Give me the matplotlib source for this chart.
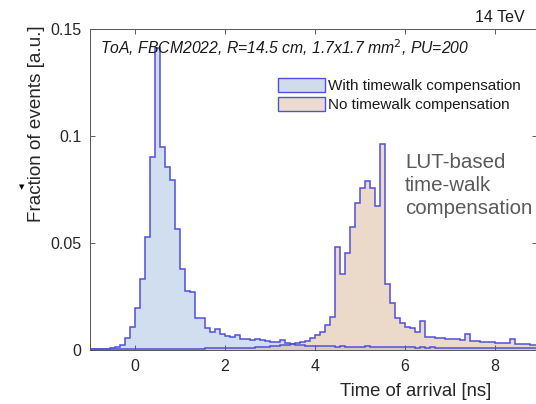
import numpy as np
import matplotlib
matplotlib.use("Agg")
import matplotlib.pyplot as plt
from matplotlib.patches import Patch

plt.rcParams['font.family'] = ['Liberation Sans', 'DejaVu Sans']

# ---- data -------------------------------------------------------------
bin_width = 1.0 / 9.0           # ns
first_edge = -1.0               # ns
n_bins = 90

with_comp = [
    0.0002, 0.0003, 0.0004, 0.0005, 0.0008,
    0.0012, 0.0022, 0.0053, 0.0105,
    0.0197, 0.0330, 0.0525, 0.0902, 0.1410, 0.0946, 0.0855, 0.0793, 0.0563,
    0.0378, 0.0272, 0.0268, 0.0148, 0.0146, 0.0100, 0.0085, 0.0095, 0.0073,
    0.0062, 0.0060, 0.0069, 0.0050, 0.0049, 0.0047, 0.0050, 0.0043, 0.0040,
    0.0037, 0.0037, 0.0045, 0.0033, 0.0027,
    0.0022, 0.0020, 0.0018, 0.0017, 0.0016, 0.0017, 0.0015, 0.0015, 0.0014, 0.0016,
    0.0014, 0.0013, 0.0014, 0.0013, 0.0015, 0.0013, 0.0012, 0.0013, 0.0012, 0.0011,
    0.0012, 0.0011, 0.0012, 0.0011, 0.0010, 0.0011, 0.0010, 0.0011, 0.0010, 0.0010,
    0.0009, 0.0010, 0.0009, 0.0010, 0.0009, 0.0009, 0.0008, 0.0009, 0.0008, 0.0009,
    0.0008, 0.0008, 0.0008, 0.0007, 0.0008, 0.0007, 0.0008, 0.0007, 0.0007,
]

no_comp = [
    0.0001, 0.0001, 0.0001, 0.0001, 0.0001, 0.0002, 0.0002, 0.0002, 0.0002, 0.0002,
    0.0002, 0.0003, 0.0003, 0.0003, 0.0003, 0.0003, 0.0004, 0.0004, 0.0004, 0.0004,
    0.0005, 0.0005, 0.0005, 0.0006, 0.0006, 0.0006, 0.0007, 0.0007, 0.0008, 0.0008,
    0.0009, 0.0009, 0.0010, 0.0011,
    0.0012, 0.0014, 0.0016, 0.0018, 0.0020, 0.0023, 0.0027,
    0.0030, 0.0035, 0.0042, 0.0053, 0.0069, 0.0084, 0.0115, 0.0151,
    0.0480, 0.0352, 0.0450, 0.0572, 0.0687, 0.0757, 0.0788, 0.0757, 0.0671, 0.0961,
    0.0307, 0.0220, 0.0150, 0.0126, 0.0107, 0.0100, 0.0084, 0.0136, 0.0061,
    0.0059, 0.0056, 0.0053, 0.0052, 0.0050, 0.0049, 0.0047, 0.0073,
    0.0040, 0.0039, 0.0038, 0.0036, 0.0035, 0.0033, 0.0032, 0.0031,
    0.0049, 0.0027, 0.0026, 0.0025, 0.0024, 0.0023,
]

series_labels = ["With timewalk compensation", "No timewalk compensation"]
x_ticks = [0, 2, 4, 6, 8]
x_tick_labels = ["0", "2", "4", "6", "8"]
y_ticks = [0, 0.05, 0.1, 0.15]
y_tick_labels = ["0", "0.05", "0.1", "0.15"]

assert len(with_comp) == n_bins and len(no_comp) == n_bins
edges = first_edge + bin_width * np.arange(n_bins + 1)

# ---- figure -----------------------------------------------------------
W, H = 536, 404
ax_l, ax_r, ax_t, ax_b = 90, 536.5, 28.7, 349.7
fig = plt.figure(figsize=(W / 100, H / 100), dpi=100)
ax = fig.add_axes([ax_l / W, (H - ax_b) / H, (ax_r - ax_l) / W, (ax_b - ax_t) / H])

edge_col = '#5050dc'
blue_face = '#a3bfe0'
orange_face = '#dcbca0'

ax.stairs(with_comp, edges, fill=True, facecolor=blue_face, alpha=0.5,
          edgecolor='none', zorder=1)
ax.stairs(no_comp, edges, fill=True, facecolor=orange_face, alpha=0.55,
          edgecolor='none', zorder=1)
ax.stairs(with_comp, edges, color=edge_col, linewidth=1.1, zorder=2)
ax.stairs(no_comp, edges, color=edge_col, linewidth=1.1, zorder=2)

ax.set_xlim(-1, (ax_r - 135) / 45.0)
ax.set_ylim(0, 0.15)
ax.set_xticks(x_ticks)
ax.set_xticklabels(x_tick_labels)
ax.set_yticks(y_ticks)
ax.set_yticklabels(y_tick_labels)
ax.tick_params(direction='in', length=3.5, width=0.6, color='#444444',
               labelsize=11.5, labelcolor='#262626', top=True, right=True)
ax.tick_params(axis='y', pad=6)
ax.tick_params(axis='x', pad=7)
for s in ax.spines.values():
    s.set_color('#555555')
    s.set_linewidth(0.7)

ax_w, ax_h = ax_r - ax_l, ax_b - ax_t
ax.set_xlabel("Time of arrival [ns]", fontsize=13.3, color='#262626')
ax.xaxis.set_label_coords((416 - ax_l) / ax_w, -(383 - ax_b) / ax_h)
ax.set_ylabel("Fraction of events [a.u.]", fontsize=13.6, color='#262626')
ax.yaxis.set_label_coords(-(ax_l - 45) / ax_w, (ax_b - 124) / ax_h)

fig.text(100 / W, (H - 47.5) / H, "ToA, FBCM2022, R=14.5 cm, 1.7x1.7 mm$^2$, PU=200",
         fontsize=11.3, style='italic', color='#1a1a1a', va='center', ha='left')
fig.text(525 / W, (H - 17) / H, "14 TeV", fontsize=11.5, color='#1a1a1a',
         ha='right', va='center')
fig.text(405 / W, (H - 153) / H, "LUT-based\ntime-walk\ncompensation", fontsize=14.8,
         color='#5a5a5a', ha='left', va='top', linespacing=1.25)
fig.text(22 / W, (H - 187) / H, "\u25bc", fontsize=5, color='black',
         ha='center', va='center', family='DejaVu Sans')

handles = [Patch(facecolor='#d0dcec', edgecolor=edge_col, linewidth=1.0),
           Patch(facecolor='#eddcce', edgecolor=edge_col, linewidth=1.0)]
leg = fig.legend(handles, series_labels, loc='upper left',
                 bbox_to_anchor=(278 / W, (H - 78) / H), frameon=False,
                 fontsize=11, handlelength=3.05, handleheight=1.0,
                 handletextpad=0.2, labelspacing=0.25, borderpad=0,
                 borderaxespad=0)
for t in leg.get_texts():
    t.set_color('#1a1a1a')

fig.savefig("out.png", dpi=100)
